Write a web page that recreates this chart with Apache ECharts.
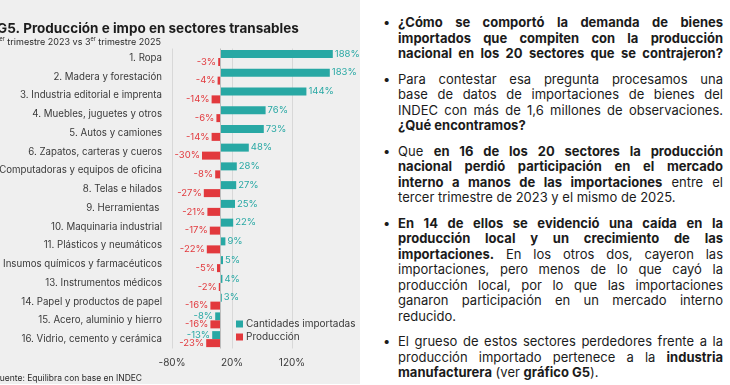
<!DOCTYPE html>
<html><head><meta charset="utf-8">
<script src="https://cdn.jsdelivr.net/npm/echarts@6.0.0/dist/echarts.min.js"></script>
<style>
html,body{margin:0;padding:0;width:730px;height:385px;background:#fff;overflow:hidden;}
#chart{position:absolute;left:0;top:0;width:360px;height:384px;background:#efefef;}
#text{position:absolute;left:398px;top:15px;width:325px;color:#1b1b1b;font-family:Inter,sans-serif;font-size:13px;line-height:15.5px;}
.p{position:relative;margin-bottom:10px;}
.p::before{content:'•';position:absolute;left:-15px;top:0;}
.l{text-align:justify;text-align-last:justify;white-space:nowrap;}
.e{text-align:left;text-align-last:left;white-space:nowrap;}
b{font-weight:700;}
</style></head>
<body>
<div id="chart"></div>
<div id="text">
 <div class="p">
  <div class="l"><b>¿Cómo se comportó la demanda de bienes</b></div>
  <div class="l"><b>importados que compiten con la producción</b></div>
  <div class="l"><b>nacional en los 20 sectores que se contrajeron?</b></div>
 </div>
 <div class="p">
  <div class="l">Para contestar esa pregunta procesamos una</div>
  <div class="l">base de datos de importaciones de bienes del</div>
  <div class="l">INDEC con más de 1,6 millones de observaciones.</div>
  <div class="e"><b>¿Qué encontramos?</b></div>
 </div>
 <div class="p">
  <div class="l">Que <b>en 16 de los 20 sectores la producción</b></div>
  <div class="l"><b>nacional perdió participación en el mercado</b></div>
  <div class="l"><b>interno a manos de las importaciones</b> entre el</div>
  <div class="e">tercer trimestre de 2023 y el mismo de 2025.</div>
 </div>
 <div class="p">
  <div class="l"><b>En 14 de ellos se evidenció una caída en la</b></div>
  <div class="l"><b>producción local y un crecimiento de las</b></div>
  <div class="l"><b>importaciones.</b> En los otros dos, cayeron las</div>
  <div class="l">importaciones, pero menos de lo que cayó la</div>
  <div class="l">producción local, por lo que las importaciones</div>
  <div class="l">ganaron participación en un mercado interno</div>
  <div class="e">reducido.</div>
 </div>
 <div class="p">
  <div class="l">El grueso de estos sectores perdedores frente a la</div>
  <div class="l">producción importado pertenece a la <b>industria</b></div>
  <div class="e"><b>manufacturera</b> (ver <b>gráfico G5</b>).</div>
 </div>
</div>
<script>
const categories = [
  '1. Ropa',
  '2. Madera y forestación',
  '3. Industria editorial e imprenta',
  '4. Muebles, juguetes y otros',
  '5. Autos y camiones',
  '6. Zapatos, carteras y cueros',
  '7. Computadoras y equipos de oficina',
  '8. Telas e hilados',
  '9. Herramientas ',
  '10. Maquinaria industrial',
  '11. Plásticos y neumáticos',
  '12. Insumos químicos y farmacéuticos',
  '13. Instrumentos médicos',
  '14. Papel y productos de papel',
  '15. Acero, aluminio y hierro',
  '16. Vidrio, cemento y cerámica'
];
const importsPct = [188, 183, 144, 76, 73, 48, 28, 27, 25, 22, 9, 5, 4, 3, -8, -13];
const productionPct = [-3, -4, -14, -6, -14, -30, -8, -27, -21, -17, -22, -5, -2, -16, -16, -23];
const seriesNames = ['Cantidades importadas', 'Producción'];
const titleText = 'G5. Producción e impo en sectores transables';
const subtitleText = '{n|3}{s|er} trimestre 2023 vs 3{s|er} trimestre 2025';
const sourceText = 'Fuente: Equilibra con base en INDEC';

const TEAL = '#28a8a4';
const RED = '#e2393d';
const FONT = 'Inter';

const chart = echarts.init(document.getElementById('chart'), null, {renderer: 'canvas'});
function mk(arr) {
  return arr.map(v => ({value: v, label: {position: v < 0 ? 'left' : 'right'}}));
}
chart.setOption({
  animation: false,
  backgroundColor: '#efefef',
  textStyle: {fontFamily: FONT},
  grid: {left: 172, top: 48.5, width: 180, height: 300, containLabel: false, outerBoundsMode: 'none'},
  xAxis: {
    type: 'value', min: -80, max: 220, interval: 100,
    axisLine: {show: false}, axisTick: {show: false},
    axisLabel: {formatter: '{value}%', fontSize: 10, color: '#3a3a3a', margin: 9, fontFamily: FONT, showMaxLabel: false},
    splitLine: {show: true, showMinLine: true, showMaxLine: false, lineStyle: {color: '#d8d8d8', width: 1}}
  },
  yAxis: {
    type: 'category', inverse: true, data: categories,
    axisLine: {show: false}, axisTick: {show: false}, splitLine: {show: false},
    axisLabel: {fontSize: 9.7, color: '#3a3a3a', margin: 10, fontFamily: FONT, interval: 0}
  },
  legend: {
    orient: 'vertical', left: 236, top: 318, padding: 0,
    itemWidth: 7, itemHeight: 7, itemGap: 1, icon: 'rect',
    textStyle: {fontSize: 10, color: '#3a3a3a', fontFamily: FONT, lineHeight: 12, padding: [0, 0, 0, -2]},
    data: seriesNames
  },
  graphic: [
    {type: 'text', x: -3, y: 29, style: {text: titleText, font: 'bold 13.5px ' + FONT, fill: '#1c1c1c', verticalAlign: 'middle'}},
    {type: 'text', x: -6, y: 42, style: {text: subtitleText, verticalAlign: 'middle', fill: '#2a2a2a',
      rich: {n: {fontSize: 9, lineHeight: 11, fontFamily: FONT, fill: '#2a2a2a'},
             s: {fontSize: 5.5, lineHeight: 6, verticalAlign: 'top', fontFamily: FONT, fill: '#2a2a2a'}},
      fontSize: 9, fontFamily: FONT}},
    {type: 'text', x: -5, y: 378, style: {text: sourceText, font: '8.5px ' + FONT, fill: '#2a2a2a', verticalAlign: 'middle'}}
  ],
  series: [
    {
      name: seriesNames[0], type: 'bar', data: mk(importsPct),
      barWidth: 8, barGap: '0%', itemStyle: {color: TEAL},
      label: {show: true, formatter: p => p.value + '%', color: TEAL, fontSize: 9.5, distance: 2, fontFamily: FONT},
      markLine: {silent: true, symbol: 'none', label: {show: false}, lineStyle: {color: '#bdbdbd', type: 'solid', width: 1},
        data: [{xAxis: 0}]}
    },
    {
      name: seriesNames[1], type: 'bar', data: mk(productionPct),
      barWidth: 8, barGap: '0%', itemStyle: {color: RED},
      label: {show: true, formatter: p => p.value + '%', color: RED, fontSize: 9.5, distance: 2, fontFamily: FONT}
    }
  ]
});
</script>
</body></html>
